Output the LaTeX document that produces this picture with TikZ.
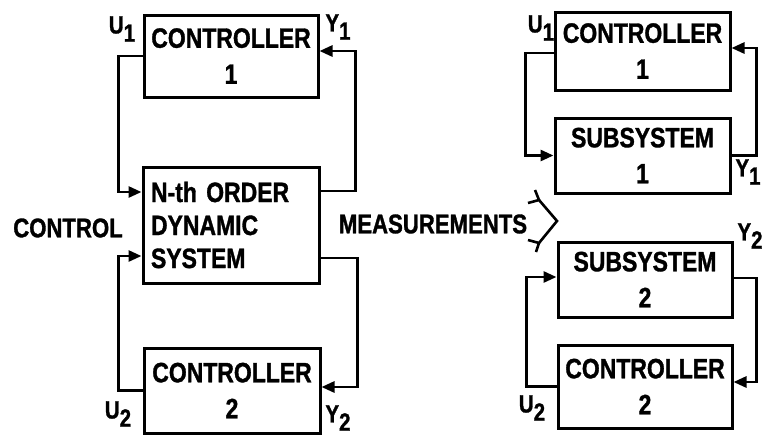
\documentclass[tikz,border=0pt]{standalone}
\usepackage{fontspec}
\setmainfont[FakeStretch=0.82, BoldFeatures={FakeBold=1.2}]{Liberation Sans}
\usetikzlibrary{arrows.meta}
\tikzset{
  blk/.style={draw, line width=3pt, align=center, inner sep=0pt, font=\bfseries\fontsize{28}{36}\selectfont},
  wire/.style={line width=2.8pt, line join=miter},
  arr/.style={wire, -{Triangle[length=13pt,width=11pt]}},
  lbl/.style={font=\bfseries\fontsize{27}{30}\selectfont, inner sep=0pt},
  sublbl/.style={font=\bfseries\fontsize{25}{30}\selectfont, inner sep=0pt}
}
\newcommand{\sub}[2]{#1\raisebox{-0.33em}{#2}}
\begin{document}
\begin{tikzpicture}[x=1pt,y=-1pt]
\useasboundingbox (0,0) rectangle (768,437);
% left column
\node[blk, minimum width=174pt, minimum height=82pt] (c1L) at (231,56) {CONTROLLER\\1};
\node[blk, minimum width=176pt, minimum height=116pt, text width=160pt, align=left, inner xsep=8pt, font=\bfseries\fontsize{28}{33}\selectfont] (nsys) at (231,225) {N-th ORDER\\DYNAMIC\\SYSTEM};
\node[blk, minimum width=176pt, minimum height=85pt] (c2L) at (232,390.5) {CONTROLLER\\2};
% right column
\node[blk, minimum width=175pt, minimum height=78pt] (c1R) at (642.5,51) {CONTROLLER\\1};
\node[blk, minimum width=175pt, minimum height=75pt] (s1) at (642.5,155.5) {SUBSYSTEM\\1};
\node[blk, minimum width=174pt, minimum height=75pt] (s2) at (645,279.5) {SUBSYSTEM\\2};
\node[blk, minimum width=174pt, minimum height=83pt] (c2R) at (645,386.5) {CONTROLLER\\2};
% left wires
\draw[arr] (c1L.west) -- ++(-24,0) |- ([yshift=33pt]nsys.west);
\draw[arr] ([yshift=34pt]nsys.east) -- ++(35,0) |- ([yshift=5pt]c1L.east);
\draw[arr] (c2L.west) -- ++(-24,0) |- ([yshift=-31pt]nsys.west);
\draw[arr] ([yshift=-33pt]nsys.east) -- ++(37,0) |- ([yshift=3.5pt]c2L.east);
% right wires
\draw[arr] ([yshift=-2pt]c1R.west) -- ++(-28,0) |- (s1.west);
\draw[arr] (s1.east) -- ++(25,0) |- ([yshift=3pt]c1R.east);
\draw[arr] (c2R.west) -- ++(-30,0) |- ([yshift=2.5pt]s2.west);
\draw[arr] ([yshift=1.5pt]s2.east) -- ++(23,0) |- ([yshift=4.5pt]c2R.east);
% labels
\node[sublbl] (u1L) at (122,29) {\sub{U}{1}};
\node[sublbl] (y1L) at (338,27) {\sub{Y}{1}};
\node[sublbl] (u2L) at (118,414) {\sub{U}{2}};
\node[sublbl] (y2L) at (338,418) {\sub{Y}{2}};
\node[sublbl] (u1R) at (541,28) {\sub{U}{1}};
\node[sublbl] (y1R) at (748,172) {\sub{Y}{1}};
\node[sublbl] (y2R) at (750,236) {\sub{Y}{2}};
\node[sublbl] (u2R) at (532,408) {\sub{U}{2}};
\node[lbl] (ctl) at (68,228) {CONTROL};
\node[lbl] (meas) at (433,224) {MEASUREMENTS};
% chevron
\draw[line width=2.6pt, line join=miter] (528,203) -- (539,200) -- (535,190);
\draw[line width=2.6pt, line join=miter] (539,200) -- (557,221) -- (539,243);
\draw[line width=2.6pt, line join=miter] (528,240) -- (539,243) -- (536,252);
\end{tikzpicture}
\end{document}
